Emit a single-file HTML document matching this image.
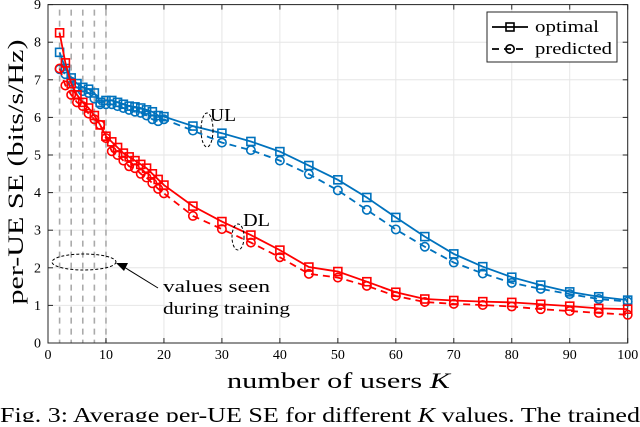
<!DOCTYPE html>
<html><head><meta charset="utf-8"><style>
body{margin:0;background:#fff;width:640px;height:422px;overflow:hidden}
svg text{font-family:"Liberation Serif",serif;fill:#000}
</style></head><body>
<svg id="chart" width="640" height="422" xmlns="http://www.w3.org/2000/svg"></svg>
<script>
const kDense=[2,3,4,5,6,7,8,9,10,11,12,13,14,15,16,17,18,19,20];
const kSparse=[25,30,35,40,45,50,55,60,65,70,75,80,85,90,95,100];
const ulOptimal=[7.73,7.3,7.05,6.9,6.8,6.75,6.65,6.4,6.45,6.45,6.4,6.35,6.3,6.28,6.25,6.2,6.15,6.05,6.02,
 5.77,5.58,5.36,5.09,4.72,4.34,3.87,3.34,2.83,2.37,2.03,1.75,1.54,1.36,1.23,1.14];
const ulPredicted=[7.28,7.15,6.95,6.8,6.7,6.65,6.5,6.35,6.35,6.35,6.3,6.25,6.2,6.15,6.12,6.05,5.95,5.9,5.95,
 5.65,5.33,5.13,4.85,4.49,4.06,3.54,3.02,2.56,2.14,1.85,1.6,1.44,1.3,1.17,1.1];
const dlOptimal=[8.25,7.45,6.9,6.6,6.4,6.25,6.05,5.8,5.5,5.35,5.2,5.05,4.95,4.85,4.75,4.65,4.5,4.35,4.2,
 3.64,3.23,2.87,2.47,2.02,1.9,1.63,1.35,1.17,1.13,1.1,1.08,1.03,0.98,0.92,0.9];
const dlPredicted=[7.3,6.85,6.6,6.4,6.3,6.1,5.95,5.8,5.45,5.1,5.0,4.85,4.7,4.65,4.5,4.4,4.25,4.1,3.98,
 3.38,3.03,2.67,2.28,1.84,1.74,1.52,1.25,1.09,1.04,1.01,0.97,0.9,0.85,0.8,0.75];
const xTicks=[0,10,20,30,40,50,60,70,80,90,100];
const yTicks=[0,1,2,3,4,5,6,7,8,9];
const trainingK=[2,4,6,8,10];

const NS="http://www.w3.org/2000/svg";
const svg=document.getElementById('chart');
const X0=48,X1=627.7,Y0=343,Y1=4.6;
const sx=v=>X0+(X1-X0)*v/100;
const sy=v=>Y0-(Y0-Y1)*v/9;
function mk(tag,attrs,parent){const e=document.createElementNS(NS,tag);for(const k in attrs)e.setAttribute(k,attrs[k]);(parent||svg).appendChild(e);return e;}
const kAll=kDense.concat(kSparse);
const SG='spacingAndGlyphs';

xTicks.forEach(t=>{const l=mk('line',{x1:sx(t),x2:sx(t),y1:Y1,y2:Y0,stroke:'#e6e6e6','stroke-width':1});

});
yTicks.forEach(t=>{const l=mk('line',{x1:X0,x2:X1,y1:sy(t),y2:sy(t),stroke:'#e6e6e6','stroke-width':1});

});
trainingK.forEach(k=>{const l=mk('line',{x1:sx(k),x2:sx(k),y1:Y1+5,y2:Y0,stroke:'#aaa','stroke-width':1.6,'stroke-dasharray':'6,5'});

});
const box=mk('rect',{x:X0,y:Y1,width:X1-X0,height:Y0-Y1,fill:'none',stroke:'#262626','stroke-width':1});


xTicks.forEach(t=>{mk('line',{x1:sx(t),x2:sx(t),y1:Y0,y2:Y0-5,stroke:'#262626'});mk('line',{x1:sx(t),x2:sx(t),y1:Y1,y2:Y1+5,stroke:'#262626'});
const tx=mk('text',{x:sx(t),y:Y0+16,'text-anchor':'middle','font-size':14});tx.textContent=t;

});
yTicks.forEach(t=>{mk('line',{x1:X0,x2:X0+5,y1:sy(t),y2:sy(t),stroke:'#262626'});mk('line',{x1:X1,x2:X1-5,y1:sy(t),y2:sy(t),stroke:'#262626'});
const tx=mk('text',{x:X0-7,y:sy(t)+4.5,'text-anchor':'end','font-size':14});tx.textContent=t;

});

function series(vals,color,dashed,marker,name){
  const g=mk('g',{});
  
  
  const pts=kAll.map((k,i)=>sx(k)+','+sy(vals[i])).join(' ');
  mk('polyline',{points:pts,fill:'none',stroke:color,'stroke-width':1.8,'stroke-dasharray':dashed?'7,5':'none'},g);
  kAll.forEach((k,i)=>{let m;
    if(marker==='sq')m=mk('rect',{x:sx(k)-4,y:sy(vals[i])-4,width:8,height:8,fill:'none',stroke:color,'stroke-width':1.6},g);
    else m=mk('circle',{cx:sx(k),cy:sy(vals[i]),r:4.2,fill:'none',stroke:color,'stroke-width':1.6},g);
    
    });
}
series(ulPredicted,'#0072BD',true,'c','ul-predicted');
series(ulOptimal,'#0072BD',false,'sq','ul-optimal');
series(dlPredicted,'#FF0000',true,'c','dl-predicted');
series(dlOptimal,'#FF0000',false,'sq','dl-optimal');

const e1=mk('ellipse',{cx:207,cy:130,rx:6,ry:17,fill:'none',stroke:'#000','stroke-dasharray':'3,2'});

const t1=mk('text',{x:210,y:121,'font-size':18,textLength:26,lengthAdjust:SG});t1.textContent='UL';

const e2=mk('ellipse',{cx:238,cy:237,rx:6,ry:13,fill:'none',stroke:'#000','stroke-dasharray':'3,2'});

const t2=mk('text',{x:243,y:226,'font-size':18,textLength:27,lengthAdjust:SG});t2.textContent='DL';

const e3=mk('ellipse',{cx:84,cy:262,rx:32,ry:8,fill:'none',stroke:'#000','stroke-dasharray':'3,2'});

const ar=mk('line',{x1:158,y1:288,x2:124,y2:267,stroke:'#000','stroke-width':1});

mk('polygon',{points:'116,263 128,263 124,271',fill:'#000'});
const t3=mk('text',{x:163,y:292,'font-size':17,textLength:107,lengthAdjust:SG});t3.textContent='values seen';

const t4=mk('text',{x:163,y:314,'font-size':17,textLength:127,lengthAdjust:SG});t4.textContent='during training';


const lg=mk('g',{});

mk('rect',{x:487,y:12,width:130,height:50,fill:'#fff',stroke:'#262626'},lg);
mk('line',{x1:492,x2:528,y1:27,y2:27,stroke:'#000','stroke-width':1.8},lg);
mk('rect',{x:506,y:23,width:8,height:8,fill:'none',stroke:'#000','stroke-width':1.6},lg);
const l1=mk('text',{x:535,y:32,'font-size':17,textLength:64,lengthAdjust:SG},lg);l1.textContent='optimal';

mk('line',{x1:492,x2:528,y1:49,y2:49,stroke:'#000','stroke-width':1.8,'stroke-dasharray':'7,5'},lg);
mk('circle',{cx:510,cy:49,r:4.2,fill:'none',stroke:'#000','stroke-width':1.6},lg);
const l2=mk('text',{x:535,y:54,'font-size':17,textLength:77,lengthAdjust:SG},lg);l2.textContent='predicted';


const yt=mk('text',{x:0,y:0,'font-size':22,'text-anchor':'middle',textLength:265,lengthAdjust:SG,transform:'translate(23,172) rotate(-90)'});yt.textContent='per-UE SE (bits/s/Hz)';

const xt=mk('text',{x:227,y:388,'font-size':22,textLength:223,lengthAdjust:SG});xt.innerHTML='number of users <tspan font-style="italic">K</tspan>';

const cap=mk('text',{x:0,y:422,'font-size':21,textLength:640,lengthAdjust:SG});cap.innerHTML='Fig. 3: Average per-UE SE for different <tspan font-style="italic">K</tspan> values. The trained';

</script>
</body></html>
